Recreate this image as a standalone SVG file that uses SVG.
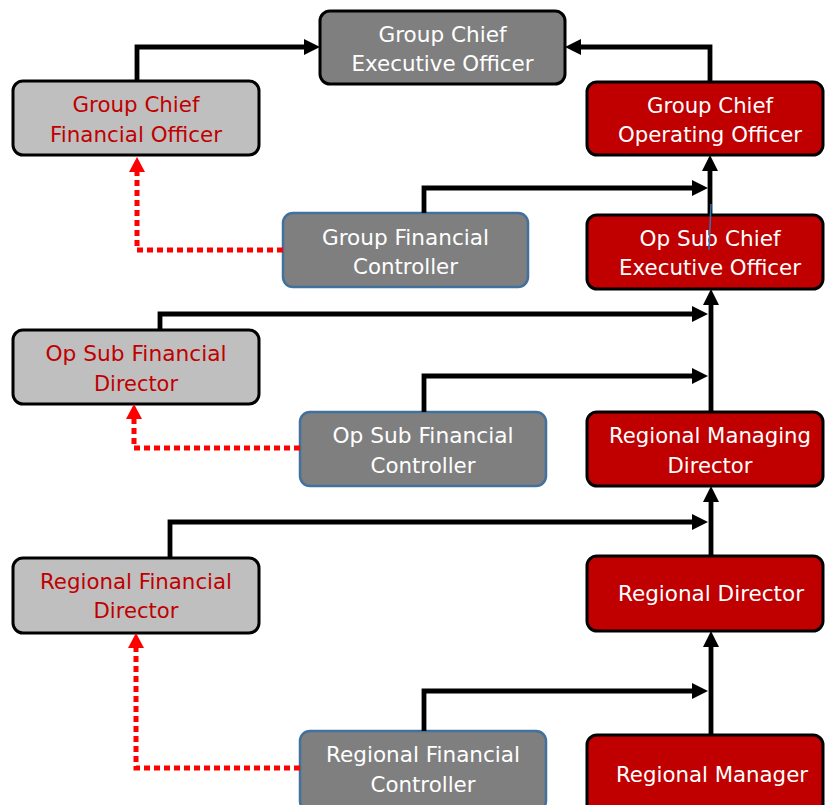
<svg xmlns="http://www.w3.org/2000/svg" width="825" height="805" viewBox="0 0 825 805">
<defs>
<style>
.dark{fill:#7f7f7f;stroke:#000;stroke-width:3}
.light{fill:#bfbfbf;stroke:#000;stroke-width:3}
.red{fill:#c00000;stroke:#000;stroke-width:3}
.ctrl{fill:#7f7f7f;stroke:#41719c;stroke-width:2.5}
text{font-family:"DejaVu Sans","Liberation Sans",sans-serif;font-size:22px;text-anchor:middle}
.w{fill:#fff}
.r{fill:#c00000}
.solid{fill:none;stroke:#000;stroke-width:4.8;marker-end:url(#ab)}
.dot{fill:none;stroke:#ff0000;stroke-width:5;stroke-dasharray:6 4;marker-end:url(#ar)}
</style>
<marker id="ab" markerUnits="userSpaceOnUse" markerWidth="17" markerHeight="17" refX="6" refY="8" orient="auto" viewBox="0 0 17 17">
<path d="M0,0 L16,8 L0,16 z" fill="#000"/>
</marker>
<marker id="ar" markerUnits="userSpaceOnUse" markerWidth="17" markerHeight="17" refX="5" refY="8" orient="auto" viewBox="0 0 17 17">
<path d="M0,0 L15,8 L0,16 z" fill="#ff0000"/>
</marker>
</defs>
<rect width="825" height="805" fill="#fff"/>
<g id="ceo">
<rect class="dark" x="320" y="11" width="245" height="73" rx="10"/>
<text class="w" x="442.5" y="42" textLength="128" lengthAdjust="spacingAndGlyphs">Group Chief</text>
<text class="w" x="442.5" y="71" textLength="182" lengthAdjust="spacingAndGlyphs">Executive Officer</text>
</g>
<g id="gcfo">
<rect class="light" x="13" y="81" width="246" height="74" rx="10"/>
<text class="r" x="136" y="112" textLength="127" lengthAdjust="spacingAndGlyphs">Group Chief</text>
<text class="r" x="136" y="142" textLength="172" lengthAdjust="spacingAndGlyphs">Financial Officer</text>
</g>
<g id="gcoo">
<rect class="red" x="587" y="82" width="236" height="73" rx="10"/>
<text class="w" x="710" y="113" textLength="126" lengthAdjust="spacingAndGlyphs">Group Chief</text>
<text class="w" x="710" y="142" textLength="184" lengthAdjust="spacingAndGlyphs">Operating Officer</text>
</g>
<g id="gfc">
<rect class="ctrl" x="283" y="213" width="245" height="74" rx="10"/>
<text class="w" x="405.5" y="245" textLength="167" lengthAdjust="spacingAndGlyphs">Group Financial</text>
<text class="w" x="405.5" y="274" textLength="105" lengthAdjust="spacingAndGlyphs">Controller</text>
</g>
<g id="osceo">
<rect class="red" x="587" y="215" width="236" height="74" rx="10"/>
<text class="w" x="710" y="246" textLength="141" lengthAdjust="spacingAndGlyphs">Op Sub Chief</text>
<text class="w" x="710" y="275" textLength="182" lengthAdjust="spacingAndGlyphs">Executive Officer</text>
</g>
<g id="osfd">
<rect class="light" x="13" y="330" width="246" height="74" rx="10"/>
<text class="r" x="136" y="361" textLength="181" lengthAdjust="spacingAndGlyphs">Op Sub Financial</text>
<text class="r" x="136" y="391" textLength="84" lengthAdjust="spacingAndGlyphs">Director</text>
</g>
<g id="osfc">
<rect class="ctrl" x="300" y="412" width="246" height="74" rx="10"/>
<text class="w" x="423" y="443" textLength="181" lengthAdjust="spacingAndGlyphs">Op Sub Financial</text>
<text class="w" x="423" y="473" textLength="105" lengthAdjust="spacingAndGlyphs">Controller</text>
</g>
<g id="rmd">
<rect class="red" x="587" y="412" width="236" height="74" rx="10"/>
<text class="w" x="710" y="443" textLength="202" lengthAdjust="spacingAndGlyphs">Regional Managing</text>
<text class="w" x="710" y="473" textLength="85" lengthAdjust="spacingAndGlyphs">Director</text>
</g>
<g id="rfd">
<rect class="light" x="13" y="558" width="246" height="75" rx="10"/>
<text class="r" x="136" y="589" textLength="192" lengthAdjust="spacingAndGlyphs">Regional Financial</text>
<text class="r" x="136" y="618" textLength="85" lengthAdjust="spacingAndGlyphs">Director</text>
</g>
<g id="rd">
<rect class="red" x="587" y="556" width="236" height="75" rx="10"/>
<text class="w" x="711" y="601" textLength="186" lengthAdjust="spacingAndGlyphs">Regional Director</text>
</g>
<g id="rfc">
<rect class="ctrl" x="300" y="731" width="246" height="80" rx="10"/>
<text class="w" x="423" y="762" textLength="194" lengthAdjust="spacingAndGlyphs">Regional Financial</text>
<text class="w" x="423" y="792" textLength="105" lengthAdjust="spacingAndGlyphs">Controller</text>
</g>
<g id="rm">
<rect class="red" x="587" y="735" width="236" height="80" rx="10"/>
<text class="w" x="712" y="782" textLength="192" lengthAdjust="spacingAndGlyphs">Regional Manager</text>
</g>
<g id="connectors">
<path class="solid" d="M137,81 V47 H310"/>
<path class="solid" d="M710,82 V47 H575"/>
<path class="solid" d="M710,215 V165"/>
<path class="solid" d="M424,213 V188 H698"/>
<path class="solid" d="M711,412 V299"/>
<path class="solid" d="M160,330 V314 H698"/>
<path class="solid" d="M424,412 V376 H698"/>
<path class="solid" d="M711,556 V496"/>
<path class="solid" d="M170,558 V522 H698"/>
<path class="solid" d="M711,735 V641"/>
<path class="solid" d="M424,731 V691 H698"/>
<path class="dot" d="M283,250 H137 V167"/>
<path class="dot" d="M300,448 H134 V414"/>
<path class="dot" d="M300,768 H136 V643"/>
<line x1="711" y1="204" x2="709" y2="250" stroke="#2e75b6" stroke-width="1.5"/>
</g>
</svg>
